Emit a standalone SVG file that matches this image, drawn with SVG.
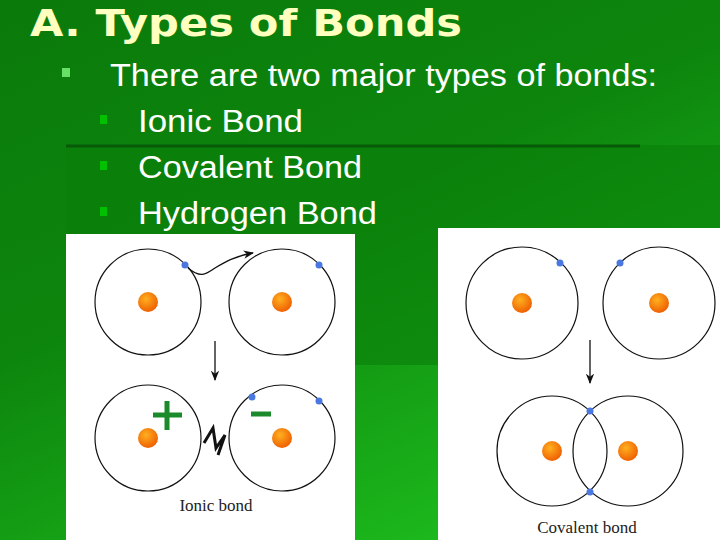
<svg xmlns="http://www.w3.org/2000/svg" width="720" height="540" viewBox="0 0 720 540">
<defs>
<linearGradient id="bg" x1="0" y1="0" x2="0.6" y2="1"><stop offset="0" stop-color="#0a7a0a"/><stop offset="0.5" stop-color="#0d860d"/><stop offset="1" stop-color="#1cb81c"/></linearGradient>
<radialGradient id="nuc" cx="0.4" cy="0.35" r="0.7"><stop offset="0" stop-color="#ffb020"/><stop offset="1" stop-color="#ee5a00"/></radialGradient>
<marker id="ah" viewBox="0 0 10 10" refX="9" refY="5" markerWidth="8" markerHeight="8" orient="auto"><path d="M0,1 L10,5 L0,9 L3,5 Z" fill="#111"/></marker>
<style>
.orb{fill:none;stroke:#111;stroke-width:1.2}
.nuc{fill:url(#nuc)}
.el{fill:#4a78e0}
.t{font-family:"Liberation Sans",Arial,sans-serif;fill:#fff;font-size:31px}
.cap{font-family:"Liberation Serif","Times New Roman",serif;font-size:17px;fill:#222}
</style>
</defs>
<rect width="720" height="540" fill="url(#bg)"/>
<rect x="66" y="145" width="654" height="220" fill="#0a7f0a" opacity="0.6"/>
<line x1="66" y1="146" x2="640" y2="146" stroke="#075a07" stroke-width="3"/>
<text x="30" y="36" font-family="DejaVu Sans,sans-serif" font-weight="bold" font-size="38" fill="#ffffc0" textLength="432" lengthAdjust="spacingAndGlyphs">A. Types of Bonds</text>
<rect x="62" y="68" width="8" height="9" fill="#66e066"/>
<text x="110" y="86" class="t" textLength="547" lengthAdjust="spacingAndGlyphs">There are two major types of bonds:</text>
<rect x="100" y="115" width="7" height="9" fill="#00c000"/>
<text x="138" y="132" class="t" textLength="165" lengthAdjust="spacingAndGlyphs">Ionic Bond</text>
<rect x="100" y="161" width="7" height="9" fill="#00c000"/>
<text x="138" y="178" class="t" textLength="224" lengthAdjust="spacingAndGlyphs">Covalent Bond</text>
<rect x="100" y="207" width="7" height="9" fill="#00c000"/>
<text x="138" y="224" class="t" textLength="239" lengthAdjust="spacingAndGlyphs">Hydrogen Bond</text>
<g id="ionic">
<rect x="66" y="234" width="289" height="306" fill="#fff"/>
<circle class="orb" cx="148" cy="302" r="53"/><circle class="orb" cx="282" cy="302" r="53"/>
<circle class="nuc" cx="148" cy="302" r="10"/><circle class="nuc" cx="282" cy="302" r="10"/>
<circle class="el" cx="185" cy="265" r="3.5"/><circle class="el" cx="319" cy="265" r="3.5"/>
<path d="M188,268 C200,278 205,275 215,268 C225,262 235,256 253,253" fill="none" stroke="#111" stroke-width="1.3" marker-end="url(#ah)"/>
<line x1="215" y1="341" x2="215" y2="380" stroke="#111" stroke-width="1.3" marker-end="url(#ah)"/>
<circle class="orb" cx="148" cy="438" r="53"/><circle class="orb" cx="282" cy="438" r="53"/>
<circle class="nuc" cx="148" cy="438" r="10"/><circle class="nuc" cx="282" cy="438" r="10"/>
<circle class="el" cx="252" cy="397" r="3.5"/><circle class="el" cx="319" cy="401" r="3.5"/>
<path d="M153,415 h29 M167,401 v29" stroke="#1a8a2a" stroke-width="5"/>
<path d="M251,414 h20" stroke="#1a8a2a" stroke-width="5"/>
<path d="M204,443 L213,428 L216,448 L225,435 L218,455" fill="none" stroke="#111" stroke-width="3"/>
<text x="216" y="511" class="cap" text-anchor="middle">Ionic bond</text>
</g>
<g id="covalent">
<rect x="438" y="228" width="282" height="312" fill="#fff"/>
<circle class="orb" cx="522" cy="303" r="56"/><circle class="orb" cx="659" cy="303" r="56"/>
<circle class="nuc" cx="522" cy="303" r="10"/><circle class="nuc" cx="659" cy="303" r="10"/>
<circle class="el" cx="560" cy="263" r="3.5"/><circle class="el" cx="620" cy="263" r="3.5"/>
<line x1="590" y1="340" x2="590" y2="383" stroke="#111" stroke-width="1.3" marker-end="url(#ah)"/>
<circle class="orb" cx="552" cy="451" r="55"/><circle class="orb" cx="628" cy="451" r="55"/>
<circle class="nuc" cx="552" cy="451" r="10"/><circle class="nuc" cx="628" cy="451" r="10"/>
<circle class="el" cx="590" cy="411" r="3.5"/><circle class="el" cx="590" cy="492" r="3.5"/>
<text x="587" y="533" class="cap" text-anchor="middle">Covalent bond</text>
</g>
</svg>
